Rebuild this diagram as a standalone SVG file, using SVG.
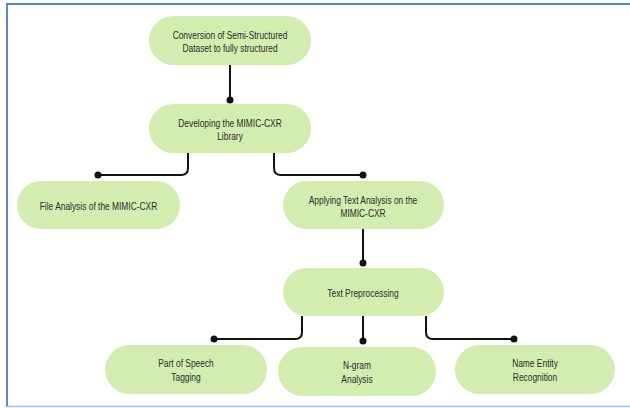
<svg xmlns="http://www.w3.org/2000/svg" width="630" height="408" viewBox="0 0 630 408">
<defs>
<style>
.node{fill:#d3edb0;}
.lbl{font-family:"Liberation Sans",Arial,sans-serif;font-size:10.5px;fill:#2b2b2b;text-anchor:middle;}
.con{fill:none;stroke:#111;stroke-width:2;}
.dot{fill:#111;}
</style>
</defs>
<rect width="630" height="408" fill="#ffffff"/>
<line x1="6" y1="4" x2="630" y2="4" stroke="#5a88d4" stroke-width="2"/>
<line x1="7" y1="4" x2="7" y2="407" stroke="#5a88d4" stroke-width="2"/>
<line x1="6" y1="406.5" x2="630" y2="406.5" stroke="#a5bde0" stroke-width="1.5"/>
<g id="connectors">
<path class="con" d="M230,65 V100"/>
<circle class="dot" cx="230" cy="100" r="3.5"/>
<path class="con" d="M188,153 V168 Q188,175 181,175 H98"/>
<circle class="dot" cx="98" cy="175" r="3.5"/>
<path class="con" d="M274,153 V168 Q274,175 281,175 H363"/>
<circle class="dot" cx="363" cy="175" r="3.5"/>
<path class="con" d="M363,229 V263"/>
<circle class="dot" cx="363" cy="263" r="3.5"/>
<path class="con" d="M302,316 V332 Q302,339 295,339 H214"/>
<circle class="dot" cx="214" cy="339" r="3.5"/>
<path class="con" d="M363,316 V341"/>
<circle class="dot" cx="363" cy="341" r="3.5"/>
<path class="con" d="M426,316 V332 Q426,339 433,339 H514"/>
<circle class="dot" cx="514" cy="339" r="3.5"/>
</g>
<g id="n1"><rect class="node" x="149" y="16" width="162" height="49" rx="24.5"/>
<g transform="translate(230,0) scale(0.8,1)"><text class="lbl" x="0" y="39.5">Conversion of Semi-Structured</text>
<text class="lbl" x="0" y="52.5">Dataset to fully structured</text></g></g>
<g id="n2"><rect class="node" x="149" y="104" width="162" height="49" rx="24.5"/>
<g transform="translate(230,0) scale(0.8,1)"><text class="lbl" x="0" y="127">Developing the MIMIC-CXR</text>
<text class="lbl" x="0" y="140.5">Library</text></g></g>
<g id="n3"><rect class="node" x="17" y="181" width="163" height="48" rx="24"/>
<g transform="translate(98.5,0) scale(0.8,1)"><text class="lbl" x="0" y="210.5">File Analysis of the MIMIC-CXR</text></g></g>
<g id="n4"><rect class="node" x="283" y="181" width="161" height="48" rx="24"/>
<g transform="translate(363,0) scale(0.8,1)"><text class="lbl" x="0" y="204.5">Applying Text Analysis on the</text>
<text class="lbl" x="0" y="217.5">MIMIC-CXR</text></g></g>
<g id="n5"><rect class="node" x="283" y="268" width="161" height="48" rx="24"/>
<g transform="translate(363,0) scale(0.8,1)"><text class="lbl" x="0" y="297">Text Preprocessing</text></g></g>
<g id="n6"><rect class="node" x="105" y="345" width="162" height="49" rx="24.5"/>
<g transform="translate(186,0) scale(0.8,1)"><text class="lbl" x="0" y="367.5">Part of Speech</text>
<text class="lbl" x="0" y="381">Tagging</text></g></g>
<g id="n7"><rect class="node" x="278" y="347" width="158" height="49" rx="24.5"/>
<g transform="translate(357,0) scale(0.8,1)"><text class="lbl" x="0" y="369.5">N-gram</text>
<text class="lbl" x="0" y="383">Analysis</text></g></g>
<g id="n8"><rect class="node" x="455" y="345" width="160" height="49" rx="24.5"/>
<g transform="translate(535,0) scale(0.8,1)"><text class="lbl" x="0" y="367.5">Name Entity</text>
<text class="lbl" x="0" y="381">Recognition</text></g></g>
</svg>
